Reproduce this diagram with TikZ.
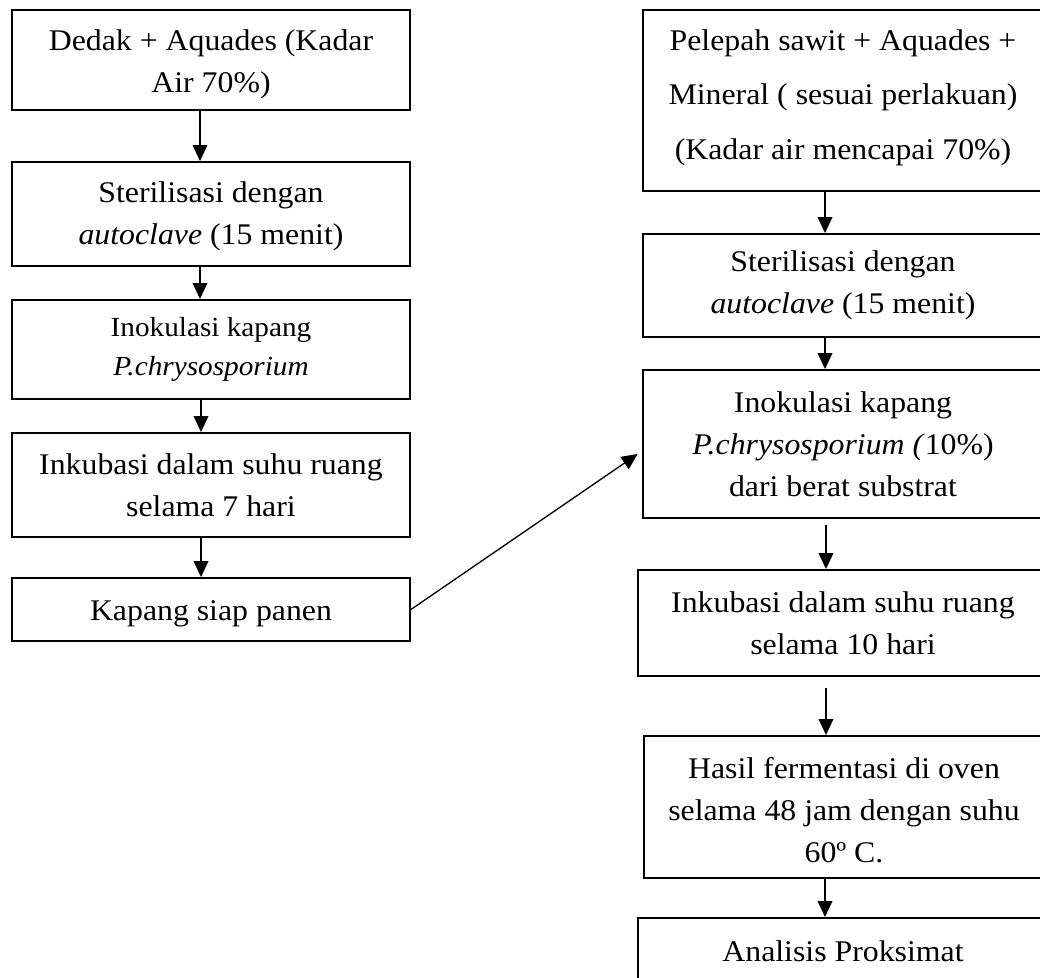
\documentclass[tikz,border=0pt]{standalone}
\usepackage{fontspec}
\setmainfont[FakeStretch=1.06]{Liberation Serif}
\usetikzlibrary{arrows.meta}
\tikzset{
  stepbox/.style={draw, line width=1.4pt, rectangle, align=center, inner sep=2pt,
    font={\fontsize{22.5pt}{31.5pt}\selectfont}},
  arr/.style={line width=1pt, -{Triangle[length=12pt,width=11pt]}}
}
\begin{document}
\begin{tikzpicture}[x=0.75pt,y=-0.75pt]
\clip (0,0) rectangle (1040,978);
\fill[white] (0,0) rectangle (1040,978);
% left column
\node[stepbox, minimum width=298.5pt, minimum height=75pt, text height=53pt] (L1) at (211,60)
  {Dedak + Aquades (Kadar\\Air 70\%)};
\node[stepbox, minimum width=298.5pt, minimum height=78pt, text height=50.8pt] (L2) at (211,214)
  {Sterilisasi dengan\\\textit{autoclave} (15 menit)};
\node[stepbox, minimum width=298.5pt, minimum height=74.25pt,
  font={\fontsize{20.7pt}{29pt}\selectfont}] (L3) at (211,349.5)
  {Inokulasi kapang\\\textit{P.chrysosporium}};
\node[stepbox, minimum width=298.5pt, minimum height=78pt] (L4) at (211,485)
  {Inkubasi dalam suhu ruang\\selama 7 hari};
\node[stepbox, minimum width=298.5pt, minimum height=47.25pt, text height=21.3pt] (L5) at (211,609.5)
  {Kapang siap panen};
% right column
\node[stepbox, minimum width=300pt, minimum height=135.75pt,
  font={\fontsize{22.5pt}{40.9pt}\selectfont}, text height=92.8pt] (R1) at (843,100.5)
  {Pelepah sawit + Aquades +\\Mineral ( sesuai perlakuan)\\(Kadar air mencapai 70\%)};
\node[stepbox, minimum width=300pt, minimum height=77.25pt] (R2) at (843,285.5)
  {Sterilisasi dengan\\\textit{autoclave} (15 menit)};
\node[stepbox, minimum width=300pt, minimum height=111pt] (R3) at (843,444)
  {Inokulasi kapang\\\textit{P.chrysosporium (}10\%)\\dari berat substrat};
\node[stepbox, minimum width=307.5pt, minimum height=79.5pt] (R4) at (843,623)
  {Inkubasi dalam suhu ruang\\selama 10 hari};
\node[stepbox, minimum width=300pt, minimum height=106.5pt, text height=84.3pt] (R5) at (844,807)
  {Hasil fermentasi di oven\\selama 48 jam dengan suhu\\60º C.};
\node[stepbox, minimum width=307.5pt, minimum height=50.25pt] (R6) at (843,951.5)
  {Analisis Proksimat};
% arrow columns
\coordinate (lx) at (200,0);
\coordinate (lx2) at (201,0);
\coordinate (rx) at (825,0);
\coordinate (rx2) at (826,0);
\coordinate (tgt) at (637.7,454);
\draw[arr] (L1.south -| lx) -- (L2.north -| lx);
\draw[arr] (L2.south -| lx) -- (L3.north -| lx);
\draw[arr] (L3.south -| lx2) -- (L4.north -| lx2);
\draw[arr] (L4.south -| lx2) -- (L5.north -| lx2);
\draw[arr] (R1.south -| rx) -- (R2.north -| rx);
\draw[arr] (R2.south -| rx) -- (R3.north -| rx);
\draw[arr, shorten <=4.5pt] (R3.south -| rx2) -- (R4.north -| rx2);
\draw[arr, shorten <=8pt] (R4.south -| rx2) -- (R5.north -| rx2);
\draw[arr] (R5.south -| rx) -- (R6.north -| rx);
\draw[arr] (L5.east) -- (tgt);
\end{tikzpicture}
\end{document}
